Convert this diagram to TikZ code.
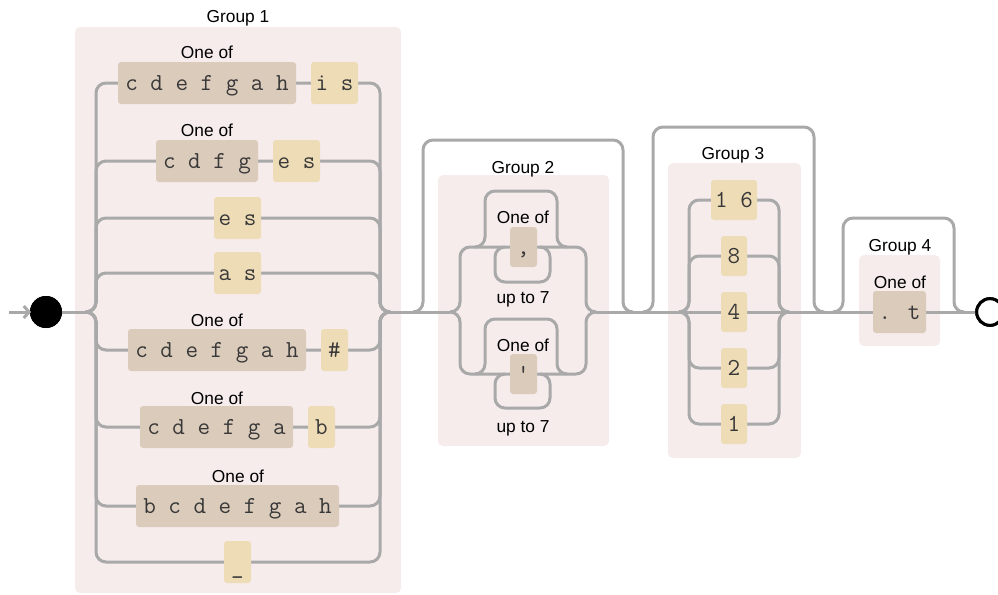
\documentclass[tikz,border=0pt]{standalone}
\usepackage{fontspec}
\setmainfont{Liberation Sans}
\usetikzlibrary{arrows.meta}
\definecolor{grpbg}{HTML}{F6ECEC}
\definecolor{setbox}{HTML}{DBCBBB}
\definecolor{litbox}{HTML}{EEDCB7}
\definecolor{railc}{HTML}{A9A9A9}
\newcommand\bx[7]{\node[#1,minimum width={(#5-#3)*0.75pt},minimum height={(#6-#4)*0.75pt}] (#2) at ({(#3+#5)/2},{(#4+#6)/2}) {#7};}
\begin{document}
\begin{tikzpicture}[x=0.75pt,y=-0.75pt,
  rail/.style={draw=railc,line width=2.25pt,rounded corners=7.5pt},
  grp/.style={fill=grpbg,rounded corners=3.75pt},
  lbl/.style={font=\fontsize{13}{15}\selectfont,text=black,inner sep=0pt,text height=9.4pt,text depth=0pt},
  boxbase/.style={rounded corners=2.25pt,inner sep=0pt,font=\ttfamily\fontsize{18.3}{20}\selectfont,text=black!78,text height=11.2pt,text depth=0pt},
  setb/.style={boxbase,fill=setbox},
  litb/.style={boxbase,fill=litbox}]
\useasboundingbox (0,0) rectangle (998,594);
\clip (0,0) rectangle (998,594);
% group backgrounds
\fill[grp] (75,27) rectangle (401,593);
\fill[grp] (438,175) rectangle (609,446);
\fill[grp] (668,163) rectangle (801,458);
\fill[grp] (859,255) rectangle (940,346);
% terminals
\node[circle,fill=black,minimum size=24pt,inner sep=0pt] (startc) at (46,312) {};
\node[circle,draw=black,fill=white,line width=2.25pt,minimum size=20pt,inner sep=0pt] (endc) at (990,312) {};
\coordinate (arrin) at (9,312);
% rails group 1
\foreach \y in {83,161,218,273,350,427,506,562}
  \draw[rail] (86,312) -- (96,312) -- (96,\y) -- (380,\y) -- (380,312) -- (390,312);
% main segments
\draw[rail] (startc.center) -- (86,312);
\draw[rail] (390,312) -- (450,312);
\draw[rail] (596,312) -- (endc.center);
% group 2 skip
\draw[rail] (413,312) -- (423,312) -- (423,140) -- (623,140) -- (623,312) -- (633,312);
% group 2 branches
\foreach \y/\t/\b in {247/191/282,374/319/408}{
  \draw[rail] (450,312) -- (460,312) -- (460,\y) -- (586,\y) -- (586,312) -- (596,312);
  \draw[rail] (475,\y) -- (485,\y) -- (485,\t) -- (557,\t) -- (557,\y) -- (567,\y);
  \draw[rail] (540,\y) -- (550,\y) -- (550,\b) -- (495,\b) -- (495,\y) -- (505,\y);
}
% group 3 skip and rows
\draw[rail] (643,312) -- (653,312) -- (653,127) -- (814,127) -- (814,312) -- (824,312);
\foreach \y in {200,256,368,424}
  \draw[rail] (679,312) -- (689,312) -- (689,\y) -- (779,\y) -- (779,312) -- (789,312);
% group 4 skip
\draw[rail] (833,312) -- (843,312) -- (843,218) -- (954,218) -- (954,312) -- (964,312);
% redraw terminals on top
\node[circle,fill=black,minimum size=24pt,inner sep=0pt] at (startc) {};
\node[circle,draw=black,fill=white,line width=2.25pt,minimum size=20pt,inner sep=0pt] at (endc) {};
\draw[draw=railc,line width=2.25pt,-{Straight Barb[length=4pt,width=9pt]}] (arrin) -- ([xshift=1pt]startc.west);
% group 1 boxes
\bx{setb}{raa}{118}{62}{296}{104}{c d e f g a h}
\bx{litb}{rab}{311}{62}{358}{104}{i s}
\bx{setb}{rba}{156}{140}{258}{182}{c d f g}
\bx{litb}{rbb}{273}{140}{320}{182}{e s}
\bx{litb}{rc}{214}{197}{261}{239}{e s}
\bx{litb}{rd}{214}{252}{261}{294}{a s}
\bx{setb}{rea}{128}{329}{306}{371}{c d e f g a h}
\bx{litb}{reb}{321}{329}{348}{371}{\#}
\bx{setb}{rfa}{140}{406}{293}{448}{c d e f g a}
\bx{litb}{rfb}{308}{406}{335}{448}{b}
\bx{setb}{rg}{136}{485}{339}{527}{b c d e f g a h}
\bx{litb}{rh}{224}{541}{251}{583}{\raisebox{-3pt}{\_}}
% group 2 boxes
\bx{setb}{ga}{510}{227}{537}{267}{,}
\bx{setb}{gb}{510}{354}{537}{394}{\char39}
% group 3 boxes
\bx{litb}{ha}{711}{180}{757}{220}{1 6}
\bx{litb}{hb}{721}{236}{747}{276}{8}
\bx{litb}{hc}{721}{292}{747}{332}{4}
\bx{litb}{hd}{721}{348}{747}{388}{2}
\bx{litb}{he}{721}{404}{747}{444}{1}
% group 4 box
\bx{setb}{ka}{873}{291}{926}{333}{. t}
% labels
\node[lbl] (g1l) at (238,16) {Group 1};
\node[lbl] (o1) at (207,52) {One of};
\node[lbl] (o2) at (207,130) {One of};
\node[lbl] (o5) at (217,320) {One of};
\node[lbl] (o6) at (217,398) {One of};
\node[lbl] (o7) at (238,476) {One of};
\node[lbl] (g2l) at (523,167) {Group 2};
\node[lbl] (o8) at (523,217) {One of};
\node[lbl] (u1) at (523,297) {up to 7};
\node[lbl] (o9) at (523,345) {One of};
\node[lbl] (u2) at (523,426) {up to 7};
\node[lbl] (g3l) at (733,153) {Group 3};
\node[lbl] (g4l) at (900,245) {Group 4};
\node[lbl] (o10) at (900,282) {One of};
\end{tikzpicture}
\end{document}
